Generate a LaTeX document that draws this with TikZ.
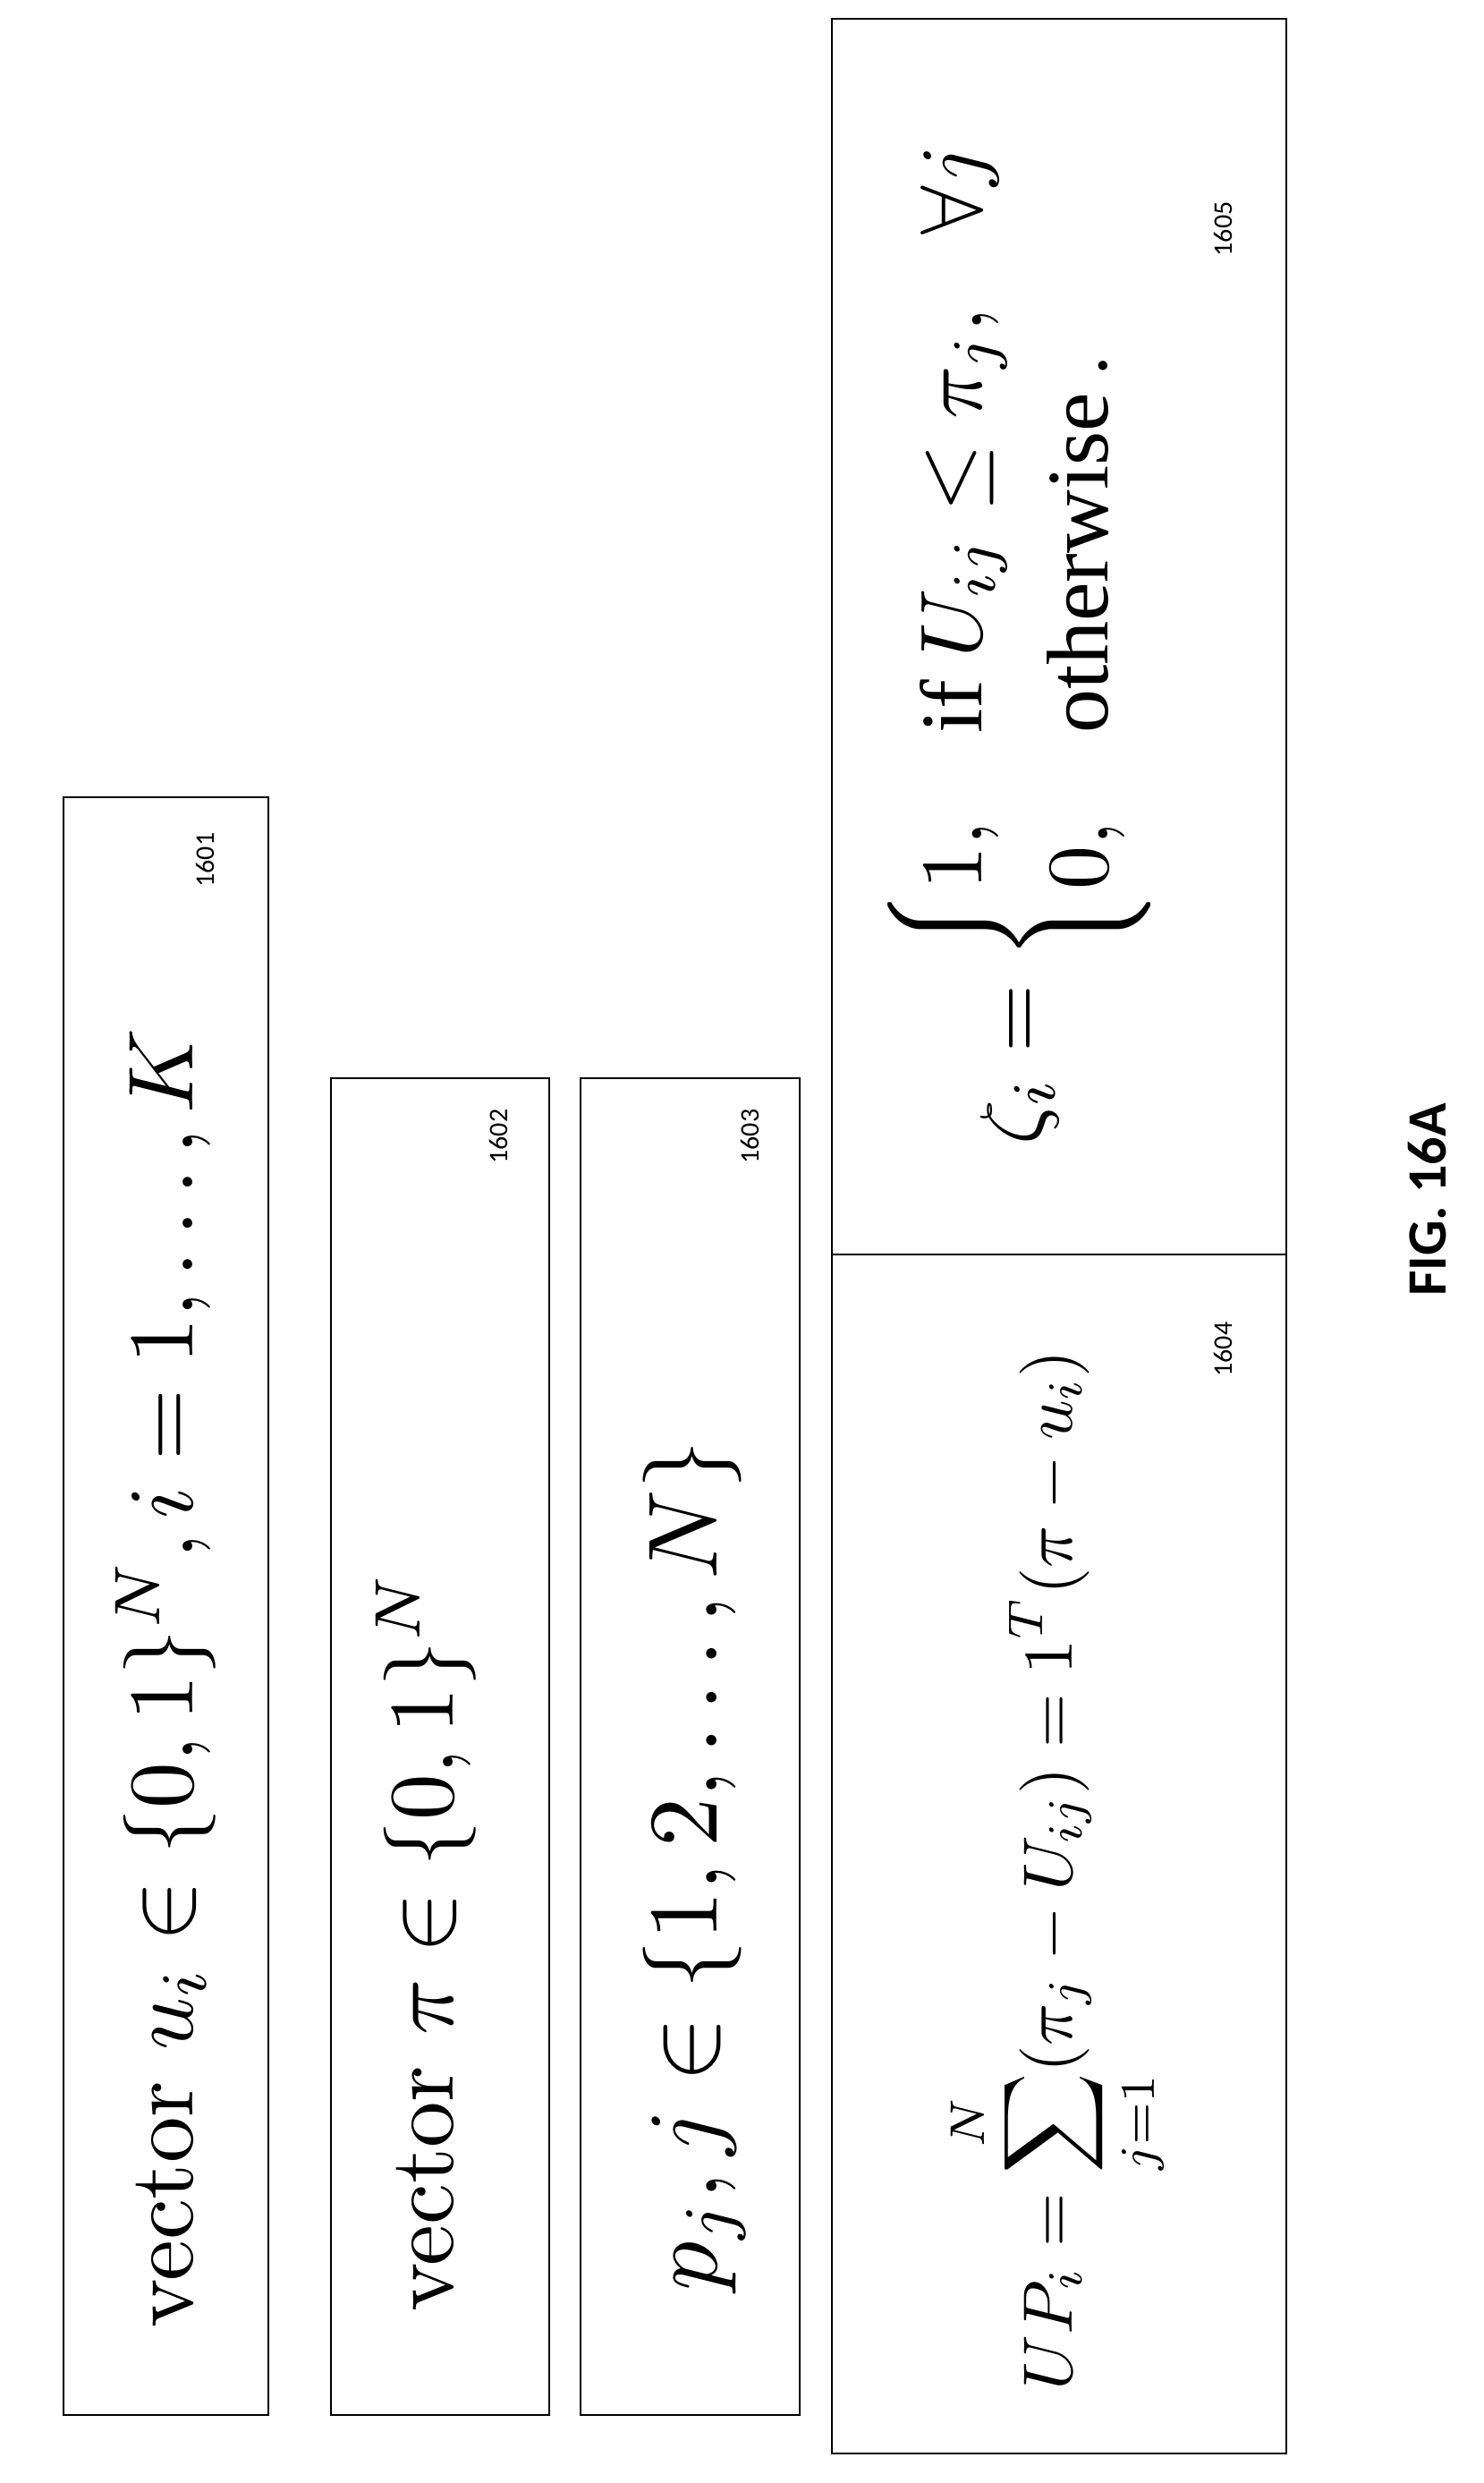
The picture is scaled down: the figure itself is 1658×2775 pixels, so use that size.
\documentclass[tikz,border=0pt]{standalone}
\usepackage{amsmath}
\usepackage{graphicx}
\usepackage{fontspec}
\newfontfamily\lblfont{Carlito}
\newfontfamily\tmsfont{Liberation Serif}
\begin{document}
\begin{tikzpicture}[x=1pt,y=-1pt,
  box/.style={draw,line width=2.4pt},
  lbl/.style={rotate=90,font=\lblfont\fontsize{30}{32}\selectfont},
  eq/.style={rotate=90,inner sep=0pt}]
\useasboundingbox (0,0) rectangle (1658,2775);
\draw[box] (71,891) rectangle (300,2699);
\draw[box] (370,1205) rectangle (614,2699);
\draw[box] (649,1205) rectangle (894,2699);
\draw[box] (930,21) rectangle (1438,2742);
\draw[box] (930,1402) -- (1438,1402);
\node[eq] (f1) at (185,1875) {\scalebox{10.3}{vector $u_i\in\{0,1\}^N, i=1,\ldots,K$}};
\node[eq] (f2) at (476,2170) {\scalebox{10.3}{vector $\pi\in\{0,1\}^N$}};
\node[eq] (f3) at (776,2085) {\scalebox{11}{$p_j, j\in\{1,2,\ldots,N\}$}};
\node[eq] (f4) at (1182,2090) {\scalebox{7.8}{$\displaystyle UP_i=\sum_{j=1}^{N}(\pi_j-U_{ij})=1^T(\pi-u_i)$}};
\node[eq] (f5) at (1140,715) {\scalebox{9.8}{$\zeta_i=\begin{cases}1, & \text{\tmsfont if } U_{ij}\le\pi_j,\ \ \forall j\\ 0, & \text{\tmsfont otherwise}\,.\end{cases}$}};
\node[lbl] (l1) at (229,961) {1601};
\node[lbl] (l2) at (557,1270) {1602};
\node[lbl] (l3) at (838,1270) {1603};
\node[lbl] (l4) at (1367,1508) {1604};
\node[lbl] (l5) at (1367,256) {1605};
\node[rotate=90,font=\lblfont\bfseries\fontsize{62}{66}\selectfont] (fig) at (1596,1341) {FIG. 16A};
\end{tikzpicture}
\end{document}
